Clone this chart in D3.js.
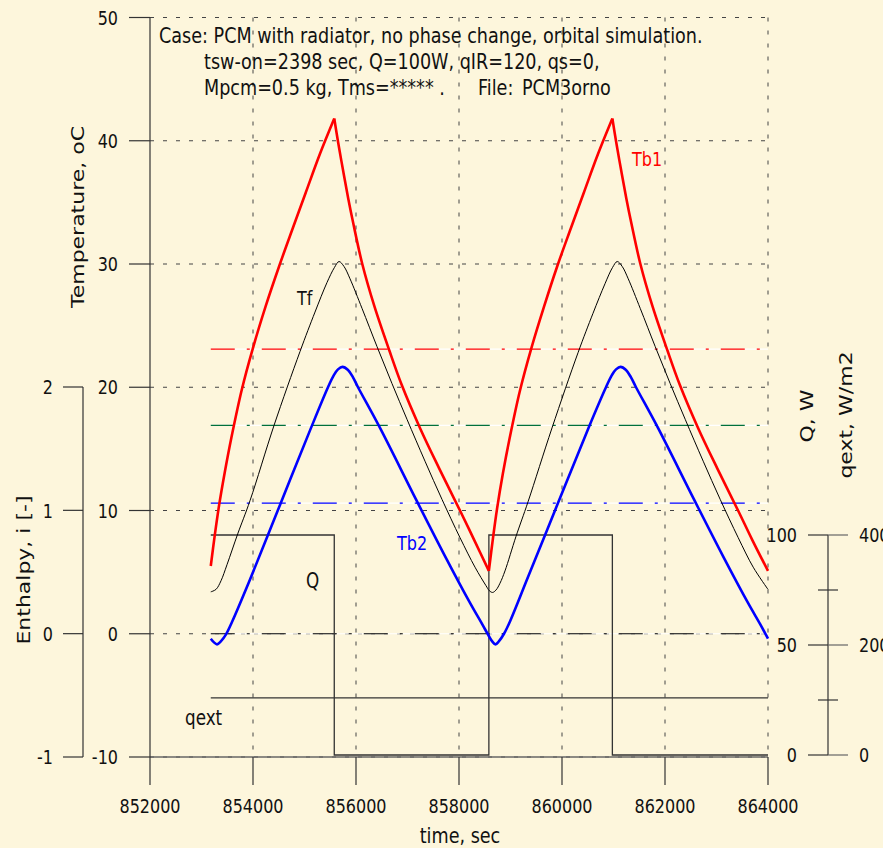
<!DOCTYPE html>
<html><head><meta charset="utf-8">
<script src="https://cdn.jsdelivr.net/npm/d3@7"></script>
<style>
html,body{margin:0;padding:0;background:#FDF6DC;}
svg{display:block;font-family:"DejaVu Sans",Verdana,sans-serif;}
</style></head><body>
<svg id="chart" width="883" height="848"></svg>
<script>
// ---------- data ----------
const timeTicks = [852000, 854000, 856000, 858000, 860000, 862000, 864000];
const tempTicks = [-10, 0, 10, 20, 30, 40, 50];
const enthalpyTicks = [-1, 0, 1, 2];
const qTicks = [0, 50, 100];
const qMinorTicks = [25, 75];
const qextTicks = [0, 200, 400];

const tb1Time = [853180, 853258, 853341, 853452, 853580, 853782, 854007, 854248, 854506, 854772, 855025, 855297, 855578,
  855656, 855753, 855850, 855947, 856122, 856355, 856646, 856887, 857242, 857617, 858019, 858296, 858580,
  858658, 858741, 858852, 858980, 859182, 859407, 859648, 859906, 860172, 860425, 860697, 860978,
  861056, 861153, 861250, 861347, 861522, 861755, 862046, 862287, 862642, 863017, 863419, 863696, 864000];
const tb1Temp = [5.5, 8.0, 10.4, 13.1, 15.9, 19.8, 23.3, 26.6, 29.8, 32.9, 35.8, 38.9, 41.8,
  39.8, 37.5, 35.3, 33.3, 30.0, 26.6, 23.0, 20.2, 16.7, 13.4, 10.0, 7.6, 5.1,
  7.7, 10.2, 13.0, 15.8, 19.7, 23.2, 26.5, 29.8, 32.9, 35.8, 38.9, 41.8,
  39.8, 37.5, 35.3, 33.3, 30.0, 26.6, 23.0, 20.2, 16.7, 13.4, 10.0, 7.6, 5.1];

const tfTime = [853180, 853282, 853379, 853495, 853703, 853942, 854408, 854913, 855204, 855437, 855579, 855670,
  855767, 855884, 856117, 856408, 856699, 856990, 857340, 857670, 858019, 858311, 858524, 858588, 858651,
  858719, 858796, 858893, 859107, 859340, 859806, 860311, 860602, 860835, 860979, 861072,
  861169, 861286, 861519, 861810, 862101, 862392, 862742, 863072, 863421, 863713, 864000];
const tfTemp = [3.4, 3.6, 4.3, 5.6, 8.1, 10.8, 16.9, 22.9, 26.1, 28.5, 29.7, 30.2,
  29.8, 28.8, 26.4, 23.3, 20.3, 17.4, 14.0, 10.9, 7.8, 5.4, 3.9, 3.5, 3.35,
  3.55, 4.1, 5.1, 7.9, 10.7, 16.7, 22.8, 26.0, 28.4, 29.7, 30.2,
  29.8, 28.8, 26.4, 23.3, 20.3, 17.4, 14.0, 10.9, 7.8, 5.4, 3.6];

const tb2Time = [853180, 853243, 853301, 853379, 853476, 853592, 853942, 854524, 855107, 855456, 855573, 855650, 855738,
  855845, 855942, 856039, 856466, 857165, 857728, 858214, 858447, 858582, 858641, 858709,
  858777, 858874, 858990, 859340, 859922, 860505, 860854, 860971, 861049, 861138,
  861243, 861340, 861437, 861864, 862563, 863126, 863612, 863845, 864000];
const tb2Temp = [-0.4, -0.7, -0.86, -0.6, -0.05, 0.95, 4.4, 10.45, 16.5, 20.0, 21.0, 21.45, 21.65,
  21.4, 20.8, 20.0, 16.7, 10.9, 6.3, 2.5, 0.8, -0.2, -0.6, -0.86,
  -0.6, 0.0, 1.0, 4.6, 10.6, 16.6, 20.0, 21.0, 21.45, 21.65,
  21.4, 20.8, 20.0, 16.7, 10.9, 6.3, 2.5, 0.8, -0.4];

const qTime = [853180, 855578, 858580, 860978, 864000];
const qValue = [100, 0, 100, 0, 0];

const qextTime = [853180, 864000];
const qextValue = [104, 104];

const refStart = 853180, refEnd = 864000;
const refLevels = [23.1, 16.9, 10.6, 0];

const headerLines = ["Case: PCM with radiator, no phase change, orbital simulation.",
  "tsw-on=2398 sec, Q=100W, qIR=120, qs=0,",
  "Mpcm=0.5 kg, Tms=***** .", "File:", "PCM3orno"];

// ---------- styles ----------
const refColors = ["#ff0000", "#00703C", "#0000ff", "#000000"];
const SX = 0.8;

const svg = d3.select("#chart");
svg.append("rect").attr("width", 883).attr("height", 848).attr("fill", "#FDF6DC");

const x = d3.scaleLinear().domain([852000, 864000]).range([150, 768]);
const yT = d3.scaleLinear().domain([-10, 50]).range([757, 17.5]);
const yH = d3.scaleLinear().domain([-1, 2]).range([757, 387]);
const yQ = d3.scaleLinear().domain([0, 100]).range([755, 535]);
const yQe = d3.scaleLinear().domain([0, 400]).range([755, 535]);

function txt(x0, y0, s, o) {
  o = o || {};
  const g = svg.append("g").attr("transform",
    `translate(${x0},${y0}) scale(${SX},1)` + (o.rot ? " rotate(-90)" : ""));
  const t = g.append("text").attr("text-anchor", o.anchor || "start")
    .attr("font-size", o.size || 20).attr("fill", o.fill || "#111").text(s);
  if (o.dy) t.attr("dy", o.dy);
  return t;
}

// ---------- grid ----------
const grid = svg.append("g").attr("stroke", "#444").attr("stroke-width", 1)
  .attr("stroke-dasharray", "4,9");
tempTicks.forEach(v => grid.append("line")
  .attr("x1", x(852000)).attr("x2", x(864000)).attr("y1", yT(v)).attr("y2", yT(v)));
timeTicks.slice(1).forEach(v => grid.append("line")
  .attr("x1", x(v)).attr("x2", x(v)).attr("y1", yT(50)).attr("y2", yT(-10)));

// ---------- reference dash-dot lines ----------
refLevels.forEach((v, i) => {
  svg.append("line").attr("x1", x(refStart)).attr("x2", x(refEnd))
    .attr("y1", yT(v)).attr("y2", yT(v)).attr("stroke", "#ffffff").attr("stroke-width", 1.2);
  svg.append("line").attr("x1", x(refStart)).attr("x2", x(refEnd))
    .attr("y1", yT(v)).attr("y2", yT(v)).attr("stroke", refColors[i]).attr("stroke-width", 1.2)
    .attr("stroke-dasharray", "24,12,3,12");
});

// ---------- axes ----------
const ax = svg.append("g").attr("stroke", "#333").attr("stroke-width", 1.2);
ax.append("line").attr("x1", x(852000)).attr("x2", x(864000)).attr("y1", yT(-10)).attr("y2", yT(-10))
  .attr("stroke", "#666").attr("stroke-width", 1.6);
timeTicks.forEach(v => ax.append("line").attr("x1", x(v)).attr("x2", x(v))
  .attr("y1", yT(-10)).attr("y2", yT(-10) + 28));
timeTicks.forEach(v => txt(x(v), 813, String(v), {anchor: "middle", size: 20}));
txt(460, 843, "time, sec", {anchor: "middle", size: 22});

ax.append("line").attr("x1", x(852000)).attr("x2", x(852000)).attr("y1", yT(50)).attr("y2", yT(-10));
tempTicks.forEach(v => {
  ax.append("line").attr("x1", x(852000) - 21).attr("x2", x(852000)).attr("y1", yT(v)).attr("y2", yT(v));
  txt(118, yT(v), String(v), {anchor: "end", size: 20, dy: "0.36em"});
});
txt(78, 217, "Temperature, oC", {anchor: "middle", size: 22, rot: true, dy: "0.36em"});

ax.append("line").attr("x1", 83).attr("x2", 83).attr("y1", yH(2)).attr("y2", yH(-1));
enthalpyTicks.forEach(v => {
  ax.append("line").attr("x1", 63).attr("x2", 83).attr("y1", yH(v)).attr("y2", yH(v));
  txt(53, yH(v), String(v), {anchor: "end", size: 20, dy: "0.36em"});
});
txt(24, 570, "Enthalpy, i [-]", {anchor: "middle", size: 22, rot: true, dy: "0.36em"});

ax.append("line").attr("x1", 828).attr("x2", 828).attr("y1", yQ(100)).attr("y2", yQ(0));
qTicks.forEach(v => {
  ax.append("line").attr("x1", 808).attr("x2", 828).attr("y1", yQ(v)).attr("y2", yQ(v));
  txt(797, yQ(v), String(v), {anchor: "end", size: 20, dy: "0.36em"});
});
qextTicks.forEach(v => {
  ax.append("line").attr("x1", 828).attr("x2", 848).attr("y1", yQe(v)).attr("y2", yQe(v))
    .attr("stroke", "#666");
  txt(859, yQe(v), String(v), {anchor: "start", size: 20, dy: "0.36em"});
});
qMinorTicks.forEach(v => ax.append("line").attr("x1", 818).attr("x2", 838)
  .attr("y1", yQ(v)).attr("y2", yQ(v)));
txt(807, 416, "Q, W", {anchor: "middle", size: 22, rot: true, dy: "0.36em"});
txt(846, 415, "qext, W/m2", {anchor: "middle", size: 22, rot: true, dy: "0.36em"});

// ---------- Q and qext ----------
svg.append("path").datum(d3.zip(qTime, qValue))
  .attr("d", d3.line().x(d => x(d[0])).y(d => yQ(d[1])).curve(d3.curveStepAfter))
  .attr("fill", "none").attr("stroke", "#333").attr("stroke-width", 1.3);
svg.append("path").datum(d3.zip(qextTime, qextValue))
  .attr("d", d3.line().x(d => x(d[0])).y(d => yQe(d[1])))
  .attr("fill", "none").attr("stroke", "#333").attr("stroke-width", 1.3);

// ---------- temperature series ----------
const tLine = d3.line().x(d => x(d[0])).y(d => yT(d[1])).curve(d3.curveCatmullRom.alpha(0.5));

function splitAtExtrema(pts) {
  const segs = []; let cur = [pts[0]];
  for (let i = 1; i < pts.length; i++) {
    cur.push(pts[i]);
    if (i < pts.length - 1) {
      const a = pts[i - 1][1], b = pts[i][1], c = pts[i + 1][1];
      if ((b > a && b > c) || (b < a && b < c)) { segs.push(cur); cur = [pts[i]]; }
    }
  }
  segs.push(cur);
  return segs;
}
splitAtExtrema(d3.zip(tb1Time, tb1Temp)).forEach(seg =>
  svg.append("path").datum(seg).attr("d", tLine).attr("fill", "none")
    .attr("stroke", "#ff0000").attr("stroke-width", 2.6).attr("stroke-linejoin", "miter"));

svg.append("path").datum(d3.zip(tfTime, tfTemp)).attr("d", tLine)
  .attr("fill", "none").attr("stroke", "#000").attr("stroke-width", 1);
svg.append("path").datum(d3.zip(tb2Time, tb2Temp)).attr("d", tLine)
  .attr("fill", "none").attr("stroke", "#0000ff").attr("stroke-width", 2.6);

// ---------- labels ----------
txt(632, 166, "Tb1", {size: 20, fill: "#ff0000"});
txt(297, 305, "Tf", {size: 20});
txt(397, 550, "Tb2", {size: 20, fill: "#0000ff"});
txt(306, 588, "Q", {size: 21});
txt(185, 725, "qext", {size: 21});

// ---------- header ----------
txt(159, 43, headerLines[0], {size: 22});
txt(204, 69, headerLines[1], {size: 22});
txt(204, 95, headerLines[2], {size: 22});
txt(478, 95, headerLines[3], {size: 22});
txt(522, 95, headerLines[4], {size: 22});
</script>
</body></html>
